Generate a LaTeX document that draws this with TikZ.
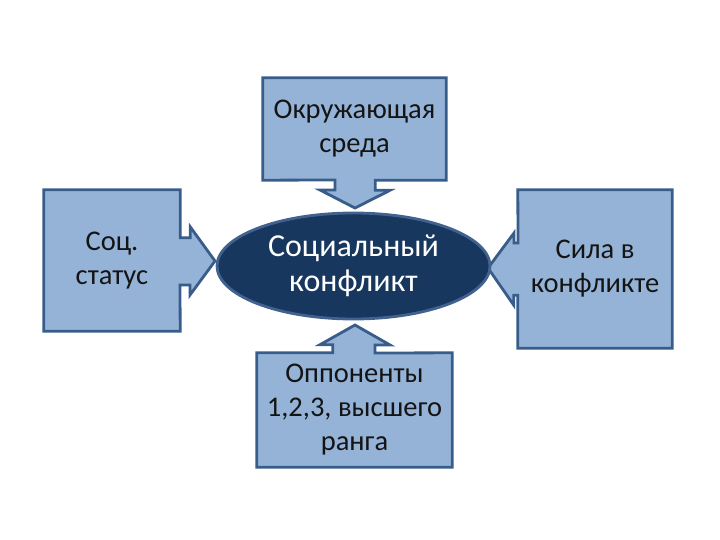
\documentclass[tikz,border=0pt]{standalone}
\usepackage{fontspec}
\setmainfont{Carlito}
\usetikzlibrary{shapes.geometric, backgrounds}

\definecolor{boxfill}{RGB}{149,179,215}
\definecolor{boxline}{RGB}{56,93,138}
\definecolor{conffill}{RGB}{23,55,94}
\definecolor{confline}{RGB}{65,98,143}
\definecolor{boxtext}{RGB}{20,20,20}

\begin{document}
\begin{tikzpicture}[
        x=1pt, y=-1pt,
        box/.style={inner sep=0pt, align=center, text=boxtext, font=\fontsize{28.5}{34}\selectfont},
        conf/.style={ellipse, draw=confline, line width=2.8pt, fill=conffill, text=white, inner sep=0pt,
            minimum width=273pt, minimum height=106pt, align=center, font=\fontsize{32}{35}\selectfont},
        callout/.style={draw=boxline, line width=2.8pt, fill=boxfill, line join=miter}
    ]
    \useasboundingbox (0,0) rectangle (720,540);

    % Center: conflict
    \node[conf] (soc) at (353.5,266) {Социальный\\конфликт};

    % Boxes around it
    \node[box, minimum width=183pt, minimum height=102pt] (env) at (354.5,129) {Окружающая\\среда};
    \node[box, minimum width=136pt, minimum height=141pt] (stat) at (112,260.5) {Соц.\\статус};
    \node[box, minimum width=154pt, minimum height=158pt] (sila) at (595,269) {Сила в\\конфликте};
    \node[box, minimum width=195pt, minimum height=114pt] (opp) at (354.5,410) {Оппоненты\\1,2,3, высшего\\ранга};

    % Arrow tips
    \coordinate (envtip) at (355,208);
    \coordinate (stattip) at (215,261);
    \coordinate (silatip) at (488,268);
    \coordinate (opptip) at (355,325);

    % Callout outlines
    \begin{scope}[on background layer]
    \draw[callout] (env.south west) -- (env.north west) -- (env.north east) -- (env.south east) -- ++(-71,0) -- ++(0,10)
        -- ++(15,0) -- (envtip) -- ++(-35,-18) -- ++(15,0) -- ++(0,-10) -- cycle;
    \draw[callout] (stat.north east) -- ++(0,48) -- ++(10,0) -- ++(0,-11) -- (stattip) -- ++(-25,34) -- ++(0,-10)
        -- ++(-10,0) -- (stat.south east) -- (stat.south west) -- (stat.north west) -- cycle;
    \draw[callout] (sila.south west) -- ++(0,-53) -- ++(-4,0) -- ++(0,10) -- (silatip) -- ++(26,-35) -- ++(0,10)
        -- ++(4,0) -- (sila.north west) -- (sila.north east) -- (sila.south east) -- cycle;
    \draw[callout] (opp.north east) -- (opp.south east) -- (opp.south west) -- (opp.north west) -- ++(76,0) -- ++(0,-8)
        -- ++(-13,0) -- (opptip) -- ++(35,20) -- ++(-15,0) -- ++(0,8) -- cycle;
    \end{scope}

\end{tikzpicture}
\end{document}
